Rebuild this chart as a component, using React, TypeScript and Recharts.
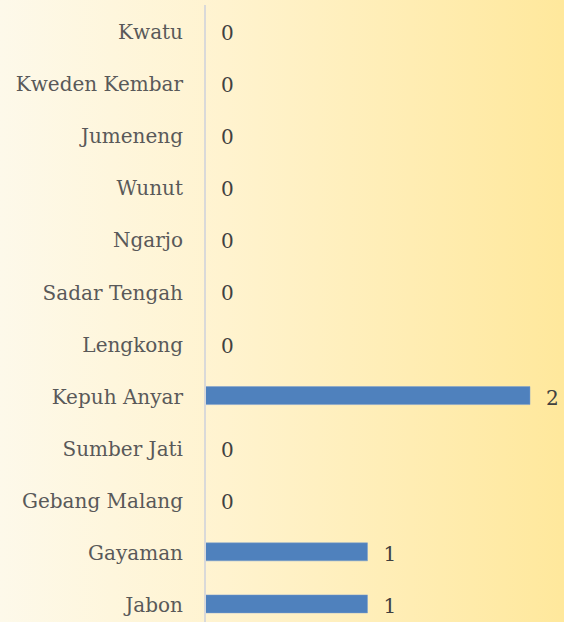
import React from 'react';
import { BarChart, Bar, XAxis, YAxis, Rectangle } from 'recharts';

const desa = [
    'Kwatu', 'Kweden Kembar', 'Jumeneng', 'Wunut', 'Ngarjo', 'Sadar Tengah',
    'Lengkong', 'Kepuh Anyar', 'Sumber Jati', 'Gebang Malang', 'Gayaman', 'Jabon',
];
const jumlah = [0, 0, 0, 0, 0, 0, 0, 2, 0, 0, 1, 1];

const data = desa.map((name, i) => ({ name, value: jumlah[i] }));

// bar plus its value label, so zero-length bars still get a "0"
const BarWithLabel = (props: any) => {
    const { x, y, width, height, value } = props;
    const w = Number(width) || 0;
    const v = Array.isArray(value) ? value[1] - value[0] : value;
    return (
        <g>
            {w > 0 && <Rectangle {...props} />}
            <text
                x={Number(x) + w + 16}
                y={Number(y) + Number(height) / 2}
                dy="0.45em"
                fill="#404040"
                fontSize={20}
                fontFamily="DejaVu Serif"
            >
                {v}
            </text>
        </g>
    );
};

const App: React.FC = () => {
    return (
        <div
            style={{
                position: 'absolute',
                left: 0,
                top: 0,
                width: 564,
                height: 622,
                overflow: 'hidden',
                background: 'linear-gradient(to right, #fdf9ea 0%, #fff3cf 40%, #ffe89c 100%)',
            }}
        >
            <BarChart
                width={564}
                height={640}
                data={data}
                layout="vertical"
                margin={{ top: 5, right: 34, left: 0, bottom: 10 }}
            >
                <XAxis type="number" domain={[0, 2]} hide />
                <YAxis
                    type="category"
                    dataKey="name"
                    width={205}
                    tickLine={false}
                    tickMargin={16}
                    axisLine={{ stroke: '#d9d9d9', strokeWidth: 2 }}
                    tick={{ fill: '#595959', fontSize: 20, fontFamily: 'DejaVu Serif', dy: 1 }}
                    interval={0}
                />
                <Bar
                    dataKey="value"
                    fill="#4f81bd"
                    stroke="#7a9fd0"
                    strokeWidth={0.5}
                    barSize={18}
                    shape={BarWithLabel}
                    isAnimationActive={false}
                />
            </BarChart>
        </div>
    );
};

export default App;
